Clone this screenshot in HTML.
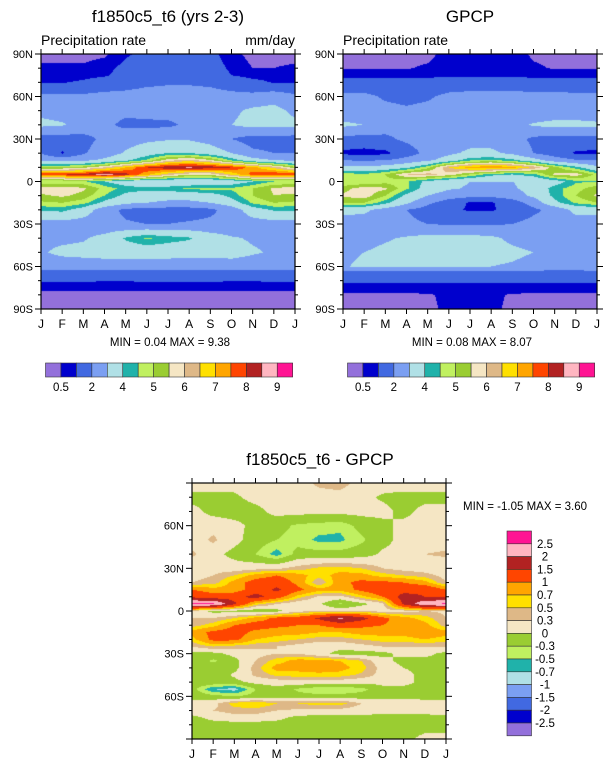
<!DOCTYPE html>
<html><head><meta charset="utf-8">
<style>
html,body{margin:0;padding:0;background:#fff;}
body{width:611px;height:768px;position:relative;overflow:hidden;font-family:"Liberation Sans",Arial,sans-serif;color:#000;}
canvas{position:absolute;}
svg{position:absolute;left:0;top:0;}
</style></head>
<body>
<canvas id="c1" style="left:41px;top:54px" width="254" height="255"></canvas>
<canvas id="c2" style="left:343px;top:54px" width="254" height="255"></canvas>
<canvas id="c3" style="left:192px;top:483px" width="254" height="256"></canvas>
<svg id="ov" width="611" height="768"></svg>
<script>
// ---- data ----
const months = ["J","F","M","A","M","J","J","A","S","O","N","D","J"];
const palette = ["#9370DB","#0000CD","#4169E1","#7B9FF2","#B0E0E6","#20B2AA","#C0F060","#9ACD32","#F5E6C4","#DEB887","#FFE000","#FFA500","#FF4500","#B22222","#FFB6C1","#FF1493"];
const climLevels = [0.5,1,2,3,4,4.5,5,5.5,6,6.5,7,7.5,8,8.5,9];
const climLabels = ["0.5","2","4","5","6","7","8","9"];
const diffLevels = [-2.5,-2,-1.5,-1,-0.7,-0.5,-0.3,0,0.3,0.5,0.7,1,1.5,2,2.5];
const diffLabels = ["-2.5","-2","-1.5","-1","-0.7","-0.5","-0.3","0","0.3","0.5","0.7","1","1.5","2","2.5"];
const latTicks = [90,60,30,0,-30,-60,-90];
const climLats = [90,80,75,70,60,50,40,30,20,15,10,5,0,-5,-10,-15,-20,-30,-40,-50,-60,-65,-70,-75,-80,-90];
const modelVals = [
[0.3,0.3,0.3,0.4,0.9,1.2,1.5,1.5,1.2,0.7,0.3,0.3,0.3],
[0.6,0.6,0.6,0.8,1.2,1.5,1.6,1.6,1.3,0.9,0.5,0.5,0.6],
[0.8,0.8,0.8,0.9,1.3,1.5,1.6,1.6,1.4,1.0,0.8,0.8,0.8],
[0.95,0.95,1.1,1.4,1.6,1.8,1.9,1.9,1.8,1.5,1.2,0.95,0.95],
[2.2,2.2,2.2,2.3,2.3,2.4,2.4,2.4,2.4,2.3,2.3,2.6,2.2],
[2.8,2.6,2.4,2.3,2.2,2.3,2.4,2.5,2.6,2.8,3.2,3.3,2.8],
[3.2,3.1,2.6,2.2,1.8,1.8,1.8,2.2,2.6,3.0,3.3,3.3,3.2],
[1.6,1.5,1.7,2.2,2.6,2.8,2.9,2.9,2.6,2.0,1.6,1.6,1.6],
[2.0,0.9,1.9,2.5,3.1,3.6,4.0,4.0,3.6,3.0,2.2,2.0,2.0],
[2.8,2.7,2.8,3.2,3.8,4.6,5.8,6.2,5.6,4.4,3.4,3.0,2.8],
[5.0,5.0,5.3,6.0,7.0,8.0,8.4,8.6,8.4,8.0,7.2,6.3,5.2],
[8.0,8.0,8.2,8.8,8.2,7.2,6.2,5.6,5.6,6.6,7.7,8.0,8.0],
[4.5,4.5,4.6,4.0,3.5,3.2,3.2,3.2,3.3,3.5,4.0,4.5,4.5],
[5.8,5.9,5.6,4.8,4.3,4.2,4.3,4.6,4.7,4.6,5.0,5.6,5.8],
[5.4,5.6,5.3,4.5,3.8,3.5,3.4,3.4,3.6,4.2,5.0,5.5,5.4],
[4.9,5.0,4.7,3.8,3.2,3.0,2.8,2.8,3.0,3.6,4.6,5.0,4.9],
[4.1,4.2,3.6,2.4,1.8,1.6,1.6,1.6,1.8,2.4,3.6,4.1,4.1],
[2.6,2.6,2.5,2.3,2.1,2.0,2.0,2.1,2.2,2.3,2.5,2.6,2.6],
[2.8,2.8,2.9,3.3,4.1,4.6,4.3,4.1,3.5,3.1,2.9,2.8,2.8],
[2.9,3.2,3.3,3.4,3.4,3.4,3.4,3.3,3.3,3.4,3.1,2.9,2.9],
[2.5,2.5,2.5,2.5,2.5,2.5,2.5,2.5,2.5,2.5,2.5,2.5,2.5],
[1.5,1.5,1.5,1.5,1.5,1.5,1.5,1.5,1.5,1.5,1.5,1.5,1.5],
[1.1,1.1,1.1,1.0,1.0,1.1,1.1,1.1,1.1,1.0,1.0,1.1,1.1],
[0.7,0.7,0.7,0.7,0.7,0.7,0.7,0.7,0.7,0.7,0.7,0.7,0.7],
[0.3,0.3,0.3,0.3,0.3,0.3,0.3,0.3,0.3,0.3,0.3,0.3,0.3],
[0.2,0.2,0.2,0.2,0.2,0.2,0.2,0.2,0.2,0.2,0.2,0.2,0.2]
];
const gpcpVals = [
[0.3,0.3,0.3,0.3,0.3,0.8,0.9,0.9,0.8,0.4,0.3,0.3,0.3],
[0.45,0.45,0.45,0.45,0.6,0.8,0.9,0.9,0.8,0.6,0.45,0.45,0.45],
[0.8,0.8,0.8,0.8,0.8,0.8,0.8,0.8,0.8,0.8,0.8,0.8,0.8],
[1.4,1.4,1.4,1.4,1.4,1.5,1.5,1.5,1.5,1.4,1.4,1.4,1.4],
[2.2,2.2,1.9,1.8,1.9,2.2,2.3,2.3,2.3,2.3,2.3,2.2,2.2],
[2.3,2.3,2.2,2.1,2.2,2.3,2.4,2.4,2.4,2.3,2.4,2.4,2.3],
[3.2,3.0,2.4,2.3,2.3,2.3,2.4,2.5,2.7,3.1,3.3,3.3,3.2],
[1.7,1.6,1.8,2.2,2.5,2.5,2.6,2.6,2.4,1.8,1.6,1.6,1.7],
[0.8,0.7,0.8,1.5,2.3,2.8,3.2,3.2,2.8,2.0,1.5,0.9,0.8],
[2.0,1.9,2.0,2.4,2.8,3.5,4.4,4.6,4.2,3.4,2.5,2.1,2.0],
[3.2,3.2,3.4,3.8,4.8,6.5,7.2,7.5,7.2,6.4,5.2,4.2,3.2],
[4.8,4.6,5.0,6.0,6.2,5.8,5.0,4.2,4.0,4.3,5.6,5.8,4.8],
[4.5,4.5,4.8,4.6,3.8,3.3,3.0,3.0,3.0,3.2,3.6,4.4,4.5],
[5.3,5.8,5.6,4.6,3.6,3.1,2.9,2.8,2.9,3.3,4.3,4.8,5.3],
[5.6,5.8,5.0,3.8,3.0,2.5,2.3,2.3,2.5,3.2,4.2,5.0,5.6],
[5.0,5.0,4.2,3.2,2.2,1.5,0.9,0.9,1.5,2.4,3.8,4.6,5.0],
[3.3,3.2,2.6,2.0,1.6,1.2,0.9,0.9,1.3,1.8,2.3,3.3,3.3],
[2.5,2.5,2.4,2.2,2.0,1.9,1.9,1.9,2.0,2.3,2.5,2.5,2.5],
[2.6,2.7,2.9,3.1,3.3,3.3,3.3,3.2,2.8,2.6,2.6,2.6,2.6],
[2.8,3.0,3.2,3.3,3.4,3.3,3.3,3.3,3.2,3.0,2.8,2.7,2.8],
[2.9,3.2,3.2,3.1,3.1,3.1,3.1,3.0,2.9,2.7,2.6,2.5,2.9],
[1.5,1.5,1.5,1.5,1.5,1.5,1.5,1.5,1.5,1.5,1.5,1.5,1.5],
[1.1,1.1,1.1,1.1,1.1,1.1,1.1,1.1,1.1,1.1,1.1,1.1,1.1],
[0.8,0.8,0.8,0.8,0.8,0.8,0.8,0.8,0.8,0.8,0.8,0.8,0.8],
[0.4,0.4,0.4,0.4,0.45,0.6,0.65,0.6,0.45,0.4,0.4,0.4,0.4],
[0.3,0.3,0.3,0.3,0.4,0.6,0.7,0.6,0.4,0.3,0.3,0.3,0.3]
];
const diffLats = [90,80,70,60,50,40,30,25,20,15,10,5,0,-5,-10,-15,-20,-25,-30,-35,-40,-45,-50,-55,-60,-65,-70,-75,-80,-90];
const diffVals = [
[0.15,0.15,0.1,0.15,0.2,0.2,0.35,0.4,0.2,0.15,0.15,0.15,0.15],
[-0.1,-0.1,-0.05,0.1,0.15,0.15,0.2,0.2,0.1,-0.05,-0.1,-0.1,-0.1],
[0.1,-0.1,-0.15,-0.1,0.1,0.1,0.1,0.1,0.1,0.1,-0.1,0.1,0.1],
[0.1,0.2,0.1,-0.1,-0.2,-0.35,-0.4,-0.45,-0.2,-0.1,0.1,0.1,0.1],
[0.15,0.35,0.1,-0.15,-0.3,-0.4,-0.55,-0.55,-0.35,-0.1,0.1,0.1,0.15],
[0.35,0.1,-0.1,-0.3,-0.6,-0.2,-0.2,-0.2,-0.15,0.05,0.1,0.3,0.35],
[0.1,0.2,0.15,0.2,0.25,0.4,0.55,0.6,0.5,0.3,0.2,0.15,0.1],
[0.2,0.3,0.5,0.8,1.0,0.8,0.6,0.8,0.8,0.6,0.5,0.4,0.2],
[0.3,0.4,0.8,1.2,1.3,0.9,0.3,0.9,1.1,1.1,1.0,0.8,0.3],
[1.0,0.8,0.8,1.2,1.6,1.1,0.8,0.8,1.1,1.3,1.3,1.4,1.0],
[1.4,1.2,1.3,1.7,1.2,0.6,0.25,0.2,0.6,1.0,1.7,1.5,1.4],
[2.6,2.6,1.6,0.6,0.3,0.1,0.05,-0.35,-0.1,0.2,1.6,2.4,2.6],
[0.25,-0.1,-0.1,-0.2,-0.1,0.2,0.3,0.2,0.3,0.2,0.2,0.3,0.25],
[0.3,0.3,0.5,0.8,1.1,1.2,1.6,2.1,1.7,1.1,0.8,0.6,0.3],
[0.4,0.6,1.0,1.2,1.1,1.0,1.0,1.2,1.1,1.0,0.9,0.8,0.4],
[0.8,1.1,1.2,0.9,0.8,0.8,0.7,0.7,0.8,0.8,0.8,0.9,0.8],
[0.6,1.1,1.1,0.7,0.6,0.5,0.4,0.4,0.5,0.6,0.6,0.7,0.6],
[0.3,0.5,0.4,0.35,0.3,0.2,0.1,0.1,0.2,0.3,0.3,0.3,0.3],
[-0.1,-0.1,0.1,0.2,0.3,0.3,0.1,-0.1,-0.15,-0.1,0.1,0.1,-0.1],
[-0.1,-0.35,-0.1,0.3,0.6,0.8,0.8,0.7,0.5,0.1,-0.1,-0.1,-0.1],
[-0.15,-0.15,-0.1,0.4,0.8,0.8,0.9,0.8,0.6,0.2,0.0,-0.1,-0.15],
[-0.1,-0.2,0.05,0.35,0.55,0.6,0.6,0.6,0.45,0.2,0.1,-0.1,-0.1],
[-0.1,-0.1,-0.1,0.1,0.15,0.2,0.2,0.15,0.1,0.1,0.1,-0.1,-0.1],
[-0.2,-0.7,-0.8,-0.3,-0.1,-0.35,-0.5,-0.5,-0.4,-0.1,-0.1,-0.1,-0.2],
[-0.1,-0.2,-0.3,-0.2,-0.1,-0.2,-0.2,-0.2,-0.15,-0.1,-0.1,-0.1,-0.1],
[0.1,0.2,0.6,0.7,0.5,0.5,0.6,0.6,0.3,0.2,0.2,0.1,0.1],
[0.2,0.3,0.4,0.4,0.3,0.25,0.2,0.2,0.15,0.1,0.1,0.1,0.2],
[-0.1,0.1,0.2,0.2,0.1,-0.1,-0.1,-0.1,-0.1,-0.1,-0.1,-0.1,-0.1],
[-0.15,-0.15,-0.15,-0.15,-0.15,-0.15,-0.15,-0.15,-0.15,-0.15,-0.15,-0.15,-0.15],
[-0.1,-0.1,-0.1,-0.1,-0.1,-0.1,-0.1,-0.1,-0.1,-0.1,-0.1,0.1,0.1]
];
// ---- rendering ----
function sample(lats, vals, mi, lat){
  let r=0; while(r<lats.length-2 && lat<lats[r+1]) r++;
  const ty=(lats[r]-lat)/(lats[r]-lats[r+1]);
  let c=Math.min(Math.floor(mi),11); const tx=mi-c;
  const a=vals[r][c]*(1-tx)+vals[r][c+1]*tx;
  const b=vals[r+1][c]*(1-tx)+vals[r+1][c+1]*tx;
  return a*(1-ty)+b*ty;
}
function cls(v,levels){let i=0;while(i<levels.length&&v>=levels[i])i++;return i;}
function drawMap(id,lats,vals,levels){
  const cv=document.getElementById(id),ctx=cv.getContext('2d');
  const W=cv.width,H=cv.height;
  const xScale=px=>(px+0.5)/W*12, yScale=py=>90-(py+0.5)/H*180;
  for(let py=0;py<H;py++)for(let px=0;px<W;px++){
    ctx.fillStyle=palette[cls(sample(lats,vals,xScale(px),yScale(py)),levels)];
    ctx.fillRect(px,py,1,1);
  }
}
drawMap('c1',climLats,modelVals,climLevels);
drawMap('c2',climLats,gpcpVals,climLevels);
drawMap('c3',diffLats,diffVals,diffLevels);

const NS='http://www.w3.org/2000/svg', ov=document.getElementById('ov');
function el(tag,attrs,text){const e=document.createElementNS(NS,tag);for(const k in attrs)e.setAttribute(k,attrs[k]);if(text!==undefined)e.textContent=text;ov.appendChild(e);return e;}
function txt(x,y,s,size,anchor,name){
  const t=el('text',{x:x,y:y,'font-size':size,'text-anchor':anchor||'start','font-family':'Liberation Sans, Arial, sans-serif'},s);
  
  
  return t;
}
function frame(x0,y0,w,h,labelLats,prefix){
  const r=el('rect',{x:x0,y:y0,width:w,height:h,fill:'none',stroke:'#000','stroke-width':1.2});
  
  
  const xs=i=>x0+i*w/12, ys=lat=>y0+(90-lat)/180*h;
  for(let i=0;i<=12;i++){
    el('line',{x1:xs(i),x2:xs(i),y1:y0,y2:y0-5,stroke:'#000'});
    el('line',{x1:xs(i),x2:xs(i),y1:y0+h,y2:y0+h+5,stroke:'#000'});
    txt(xs(i),y0+h+19,months[i],12,'middle',prefix+'-month-label');
  }
  for(let lat=90;lat>=-90;lat-=10){
    const maj=lat%30===0, L=maj?6:3;
    el('line',{x1:x0,x2:x0-L,y1:ys(lat),y2:ys(lat),stroke:'#000'});
    el('line',{x1:x0+w,x2:x0+w+L,y1:ys(lat),y2:ys(lat),stroke:'#000'});
  }
  labelLats.forEach(lat=>{
    const s=lat===0?'0':Math.abs(lat)+(lat>0?'N':'S');
    txt(x0-8,ys(lat)+4,s,11,'end',prefix+'-lat-label');
  });
}
frame(41,54,254,255,latTicks,'model');
frame(343,54,254,255,latTicks,'gpcp');
frame(192,483,254,256,[60,30,0,-30,-60],'diff');

txt(168,22,'f1850c5_t6 (yrs 2-3)',17,'middle','model-title');
txt(470,22,'GPCP',17,'middle','gpcp-title');
txt(41,45,'Precipitation rate',14,'start','model-subtitle');
txt(295,45,'mm/day',14,'end','model-units');
txt(343,45,'Precipitation rate',14,'start','gpcp-subtitle');
txt(170,346,'MIN =  0.04 MAX =   9.38',11.5,'middle','model-min-max');
txt(472,346,'MIN =  0.08 MAX =   8.07',11.5,'middle','gpcp-min-max');
txt(320,465,'f1850c5_t6 - GPCP',17,'middle','diff-title');
txt(463,510,'MIN =  -1.05 MAX =   3.60',11.5,'start','diff-min-max');

function hbar(x0,prefix){
  const bw=15.45;
  for(let i=0;i<16;i++){
    const r=el('rect',{x:x0+i*bw,y:363,width:bw,height:14,fill:palette[i],stroke:'#333','stroke-width':0.6});
    
    
  }
  climLabels.forEach((s,j)=>{
    const b=j===0?1:2*j+1;
    txt(x0+(b)*bw,391,s,11.5,'middle',prefix+'-colorbar-label');
  });
}
hbar(45.5,'model');
hbar(347.5,'gpcp');
for(let i=0;i<16;i++){
  const r=el('rect',{x:507,y:531+i*12.8,width:24.5,height:12.8,fill:palette[15-i],stroke:'#333','stroke-width':0.6});
  
  
}
for(let j=0;j<15;j++){
  txt(545,531+(j+1)*12.8+4,diffLabels[14-j],11.5,'middle','diff-colorbar-label');
}
</script>
</body></html>
